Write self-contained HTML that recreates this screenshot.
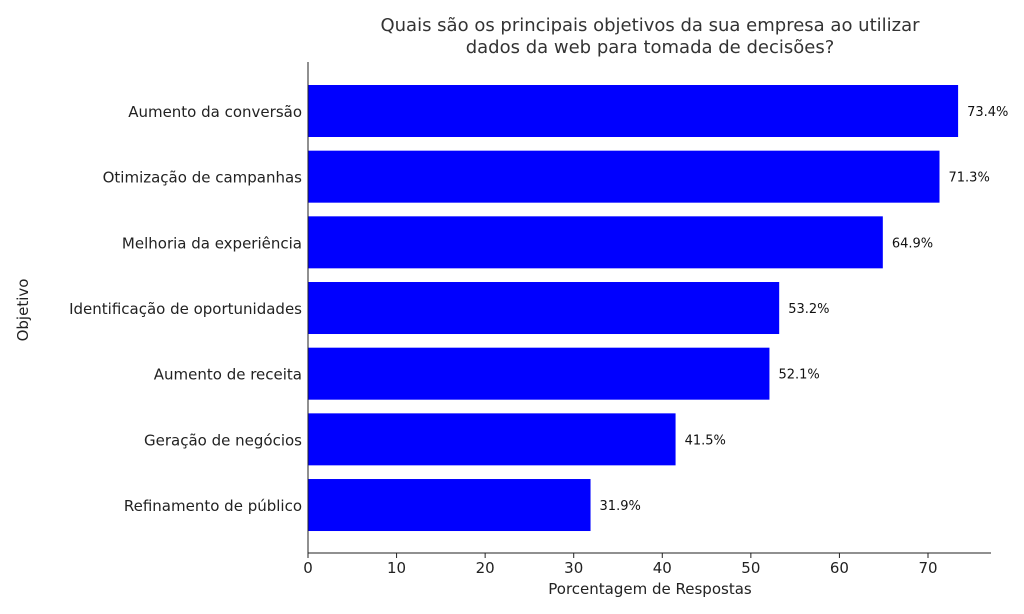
<!DOCTYPE html>
<html><head><meta charset="utf-8"><style>
body{margin:0;background:#fff;}
svg{display:block;font-family:"DejaVu Sans","Liberation Sans",sans-serif;}
</style></head><body>
<svg id="c" width="1024" height="614">
<text x="650" y="31" text-anchor="middle" font-size="18" fill="#333">Quais são os principais objetivos da sua empresa ao utilizar</text>
<text x="650" y="53" text-anchor="middle" font-size="18" fill="#333">dados da web para tomada de decisões?</text>
<g id="plot"></g>
<text x="650" y="594" text-anchor="middle" font-size="15" fill="#222">Porcentagem de Respostas</text>
<text transform="translate(28,310) rotate(-90)" text-anchor="middle" font-size="15" fill="#222">Objetivo</text>
</svg>
<script>
const categories=["Aumento da conversão","Otimização de campanhas","Melhoria da experiência","Identificação de oportunidades","Aumento de receita","Geração de negócios","Refinamento de público"];
const values=[73.4,71.3,64.9,53.2,52.1,41.5,31.9];
const ticks=[0,10,20,30,40,50,60,70];
const X0=308,PX=8.857,Y0=111,STEP=65.67,BH=52;
const x=v=>X0+v*PX, y=i=>Y0+i*STEP;
const g=document.getElementById('plot');const NS='http://www.w3.org/2000/svg';
function mk(t,a){const e=document.createElementNS(NS,t);for(const k in a)e.setAttribute(k,a[k]);g.appendChild(e);return e;}
values.forEach((v,i)=>{
 const r=mk('rect',{x:X0,y:y(i)-BH/2,width:x(v)-X0,height:BH,fill:'#0000ff'});
 
 
 const t=mk('text',{x:x(v)+9,y:y(i)+5,'font-size':13,fill:'#111'});t.textContent=v.toFixed(1)+'%';
 
 
 const c=mk('text',{x:X0-6,y:y(i)+6,'font-size':15,'text-anchor':'end',fill:'#222'});c.textContent=categories[i];
 
 
});
ticks.forEach(t=>{
 const l=mk('line',{x1:x(t),x2:x(t),y1:553,y2:558,stroke:'#222'});
 
 
 const tx=mk('text',{x:x(t),y:573,'font-size':15,'text-anchor':'middle',fill:'#222'});tx.textContent=t;
 
 
});
const ax=mk('line',{x1:X0,x2:991,y1:553,y2:553,stroke:'#222'});


const ay=mk('line',{x1:X0,x2:X0,y1:62,y2:553,stroke:'#222'});


</script>
</body></html>
